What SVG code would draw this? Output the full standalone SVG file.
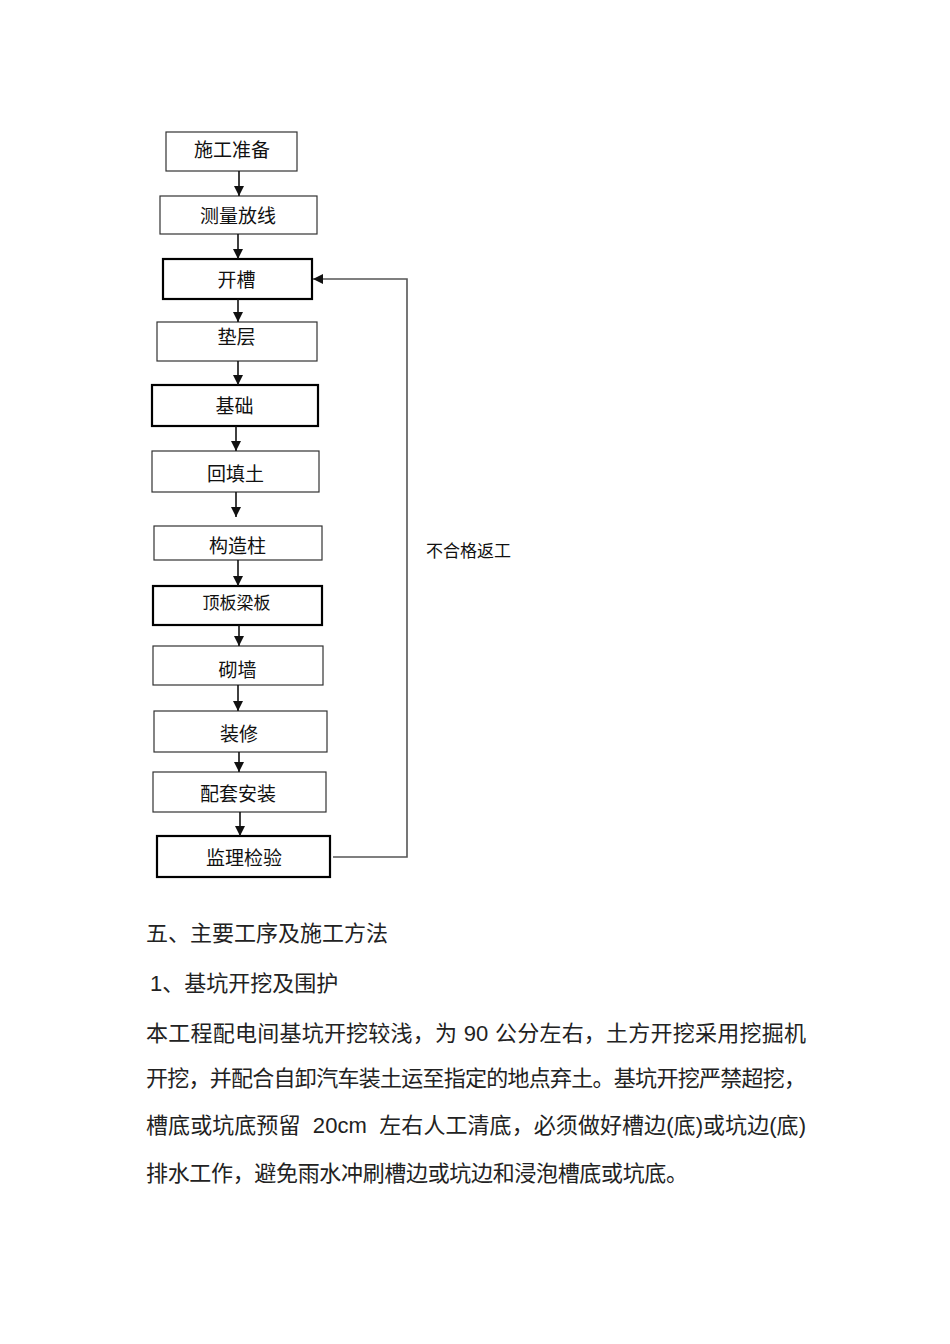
<svg xmlns="http://www.w3.org/2000/svg" width="950" height="1344" viewBox="0 0 950 1344">
<style>
.box{fill:#fff;stroke:#333;stroke-width:1.2}
.thick{fill:#fff;stroke:#000;stroke-width:2.2}
.lbl{font-family:"Liberation Sans","Noto Sans CJK SC",sans-serif;font-size:19px;fill:#111;text-anchor:middle}
.conn{stroke:#111;stroke-width:1.6;fill:none}
.fb{stroke:#555;stroke-width:1.6;fill:none}
.body{font-family:"Liberation Sans","Noto Sans CJK SC",sans-serif;font-size:22px;fill:#222;white-space:pre}
</style>
<defs>
<marker id="ah" markerUnits="userSpaceOnUse" markerWidth="11" markerHeight="11" refX="10" refY="5" orient="auto">
<path d="M0,0 L10,5 L0,10 z" fill="#111"/>
</marker>
</defs>
<rect width="950" height="1344" fill="#fff"/>

<g id="n1"><rect class="box" x="166" y="132" width="131" height="39"/><text class="lbl" x="232" y="157">施工准备</text></g>
<g id="n2"><rect class="box" x="160" y="196" width="157" height="38"/><text class="lbl" x="238" y="223">测量放线</text></g>
<g id="n3"><rect class="thick" x="163" y="259" width="149" height="40"/><text class="lbl" x="236.5" y="287">开槽</text></g>
<g id="n4"><rect class="box" x="157" y="322" width="160" height="39"/><text class="lbl" x="236.5" y="344">垫层</text></g>
<g id="n5"><rect class="thick" x="152" y="385" width="166" height="41"/><text class="lbl" x="234.5" y="413">基础</text></g>
<g id="n6"><rect class="box" x="152" y="451" width="167" height="41"/><text class="lbl" x="235.5" y="481">回填土</text></g>
<g id="n7"><rect class="box" x="154" y="526" width="168" height="34"/><text class="lbl" x="237.5" y="553">构造柱</text></g>
<g id="n8"><rect class="thick" x="153" y="586" width="169" height="39"/><text class="lbl" x="236.5" y="608.5" style="font-size:17px">顶板梁板</text></g>
<g id="n9"><rect class="box" x="153" y="646" width="170" height="39"/><text class="lbl" x="237.5" y="677">砌墙</text></g>
<g id="n10"><rect class="box" x="154" y="711" width="173" height="41"/><text class="lbl" x="239" y="741">装修</text></g>
<g id="n11"><rect class="box" x="153" y="772" width="173" height="40"/><text class="lbl" x="238" y="801">配套安装</text></g>
<g id="n12"><rect class="thick" x="157" y="836" width="173" height="41"/><text class="lbl" x="244" y="865">监理检验</text></g>

<g id="connectors">
<line class="conn" x1="239" y1="171" x2="239" y2="196" marker-end="url(#ah)"/>
<line class="conn" x1="238" y1="234" x2="238" y2="259" marker-end="url(#ah)"/>
<line class="conn" x1="238" y1="299" x2="238" y2="322" marker-end="url(#ah)"/>
<line class="conn" x1="238" y1="361" x2="238" y2="385" marker-end="url(#ah)"/>
<line class="conn" x1="236" y1="426" x2="236" y2="451" marker-end="url(#ah)"/>
<line class="conn" x1="236" y1="492" x2="236" y2="517" marker-end="url(#ah)"/>
<line class="conn" x1="238" y1="560" x2="238" y2="586" marker-end="url(#ah)"/>
<line class="conn" x1="239" y1="625" x2="239" y2="646" marker-end="url(#ah)"/>
<line class="conn" x1="238" y1="685" x2="238" y2="711" marker-end="url(#ah)"/>
<line class="conn" x1="239" y1="752" x2="239" y2="772" marker-end="url(#ah)"/>
<line class="conn" x1="240" y1="812" x2="240" y2="836" marker-end="url(#ah)"/>
<path class="fb" d="M333,857 L407,857 L407,279 L313,279" marker-end="url(#ah)"/>
<text x="426" y="557" style="font-family:'Liberation Sans','Noto Sans CJK SC',sans-serif;font-size:17px;fill:#111">不合格返工</text>
</g>

<g id="text">
<text class="body" x="146" y="941">五、主要工序及施工方法</text>
<text class="body" x="150" y="991">1、基坑开挖及围护</text>
<text class="body" x="146" y="1041" textLength="660" lengthAdjust="spacing">本工程配电间基坑开挖较浅，为 90 公分左右，土方开挖采用挖掘机</text>
<text class="body" x="146" y="1086" textLength="660" lengthAdjust="spacing">开挖，并配合自卸汽车装土运至指定的地点弃土。基坑开挖严禁超挖，</text>
<text class="body" x="146" y="1133" textLength="660" lengthAdjust="spacing">槽底或坑底预留  20cm  左右人工清底，必须做好槽边(底)或坑边(底)</text>
<text class="body" x="146" y="1181" textLength="542" lengthAdjust="spacing">排水工作，避免雨水冲刷槽边或坑边和浸泡槽底或坑底。</text>
</g>
</svg>
